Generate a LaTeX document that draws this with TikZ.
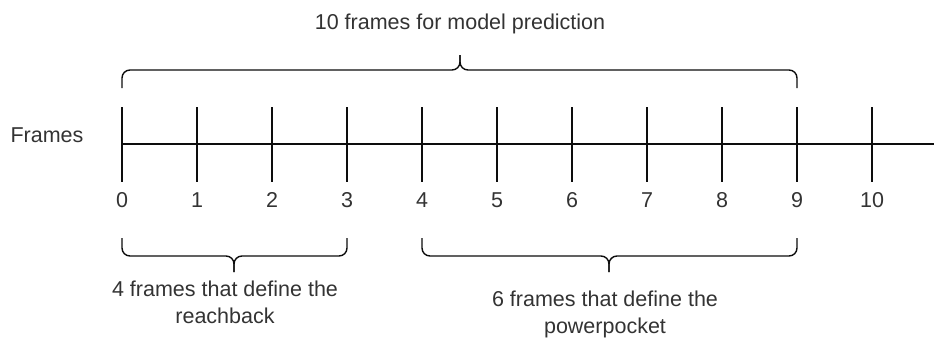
\documentclass[tikz,border=0pt]{standalone}
\usepackage{fontspec}
\setmainfont{Liberation Sans}
\definecolor{txt}{rgb}{0.2,0.2,0.2}
\definecolor{ln}{rgb}{0.05,0.05,0.05}
\begin{document}
\begin{tikzpicture}[x=1pt,y=-1pt,
  lbl/.style={inner sep=0pt,outer sep=0pt,text=txt,font=\fontsize{21.5pt}{27pt}\selectfont},
  axisline/.style={draw=ln,line width=1.6pt},
  bracepath/.style={draw=ln,line width=1.4pt,rounded corners=8pt}]
\useasboundingbox (0,0) rectangle (934,341);
% axis
\coordinate (start) at (122,144);
\coordinate (end) at (934,144);
\draw[axisline] (start) -- (end);
\foreach \i in {0,...,10}{
  \coordinate (t\i) at ({122+75*\i},144);
  \draw[axisline] ({122+75*\i},107) -- ({122+75*\i},182);
  \node[lbl,anchor=base] (n\i) at ({122+75*\i},207) {\i};
}
\node[lbl,anchor=base] (frames) at (47,142) {Frames};
% top brace
\coordinate (tA) at (122,88);
\coordinate (tB) at (797,88);
\coordinate (tT) at (460,55);
\draw[bracepath] (tA) -- (122,70) -- (460,70) -- (tT);
\draw[bracepath] (tB) -- (797,70) -- (460,70) -- (tT);
\node[lbl,anchor=base] (toptext) at (460,29) {10 frames for model prediction};
% bottom left brace
\coordinate (lA) at (122,238);
\coordinate (lB) at (347,238);
\coordinate (lT) at (234,272);
\draw[bracepath] (lA) -- (122,256) -- (234,256) -- (lT);
\draw[bracepath] (lB) -- (347,256) -- (234,256) -- (lT);
\node[lbl,align=center,anchor=north] (ltext) at (225,281) {4 frames that define the\\reachback};
% bottom right brace
\coordinate (rA) at (422,238);
\coordinate (rB) at (797,238);
\coordinate (rT) at (609,272);
\draw[bracepath] (rA) -- (422,256) -- (609,256) -- (rT);
\draw[bracepath] (rB) -- (797,256) -- (609,256) -- (rT);
\node[lbl,align=center,anchor=north] (rtext) at (605,291) {6 frames that define the\\powerpocket};
\end{tikzpicture}
\end{document}
